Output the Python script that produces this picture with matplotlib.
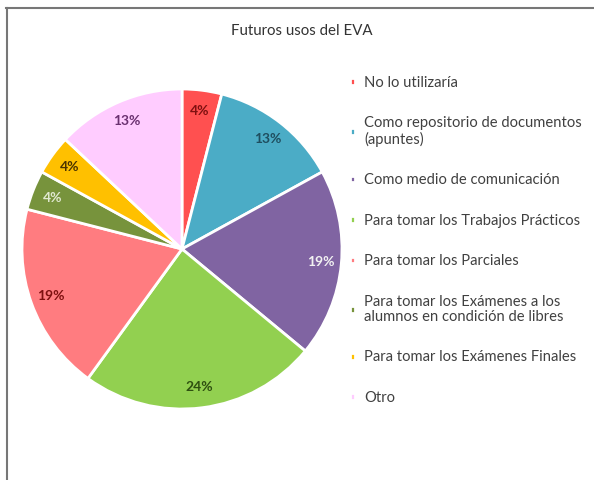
import matplotlib.pyplot as plt
from matplotlib.lines import Line2D

plt.rcParams['font.family'] = ['Lato', 'DejaVu Sans']

categories = [
    'No lo utilizaría',
    'Como repositorio de documentos\n(apuntes)',
    'Como medio de comunicación',
    'Para tomar los Trabajos Prácticos',
    'Para tomar los Parciales',
    'Para tomar los Exámenes a los\nalumnos en condición de libres',
    'Para tomar los Exámenes Finales',
    'Otro',
]
values = [4, 13, 19, 24, 19, 4, 4, 13]
colors = ['#FF5050', '#4BACC6', '#8064A2', '#92D050',
          '#FF7C80', '#77933C', '#FFC000', '#FFCCFF']
label_colors = ['#7F1010', '#1F4E5F', '#F2F2F2', '#2E5010',
                '#7F1010', '#E0E8D0', '#4A3300', '#6A3070']

fig = plt.figure(figsize=(5.94, 4.80), dpi=100)

# screenshot frame (top and left edge)
fig.add_artist(Line2D([6 / 594, 1], [1 - 7.5 / 480, 1 - 7.5 / 480],
                      color='#777777', lw=1.5, transform=fig.transFigure))
fig.add_artist(Line2D([6.5 / 594, 6.5 / 594], [0, 1 - 7.5 / 480],
                      color='#777777', lw=1.5, transform=fig.transFigure))

# pie centre ~ (182, 249), radius ~160 px
r = 160
cx, cy = 182, 249
ax = fig.add_axes([(cx - r) / 594, 1 - (cy + r) / 480, 2 * r / 594, 2 * r / 480])

wedges, texts, autotexts = ax.pie(
    values, colors=colors, startangle=90, counterclock=False,
    autopct='%1.0f%%', pctdistance=0.87,
    wedgeprops=dict(edgecolor='white', linewidth=2),
    textprops=dict(fontsize=10, fontweight='bold'))
for t, c in zip(autotexts, label_colors):
    t.set_color(c)
ax.set_xlim(-1, 1)
ax.set_ylim(-1, 1)
ax.set_aspect('equal')

fig.text(302 / 594, 1 - 31 / 480, 'Futuros usos del EVA',
         ha='center', va='center', fontsize=10.8, color='#333333')

leg = fig.legend(wedges, categories, loc='upper left',
                 bbox_to_anchor=(350 / 594, 1 - 76 / 480),
                 frameon=False, fontsize=10.6, labelspacing=1.8,
                 handlelength=0.35, handleheight=0.35, handletextpad=0.6,
                 borderpad=0, borderaxespad=0)
for t in leg.get_texts():
    t.set_color('#404040')
    t.set_linespacing(1.1)

fig.savefig('out.png', dpi=100, facecolor='white')
